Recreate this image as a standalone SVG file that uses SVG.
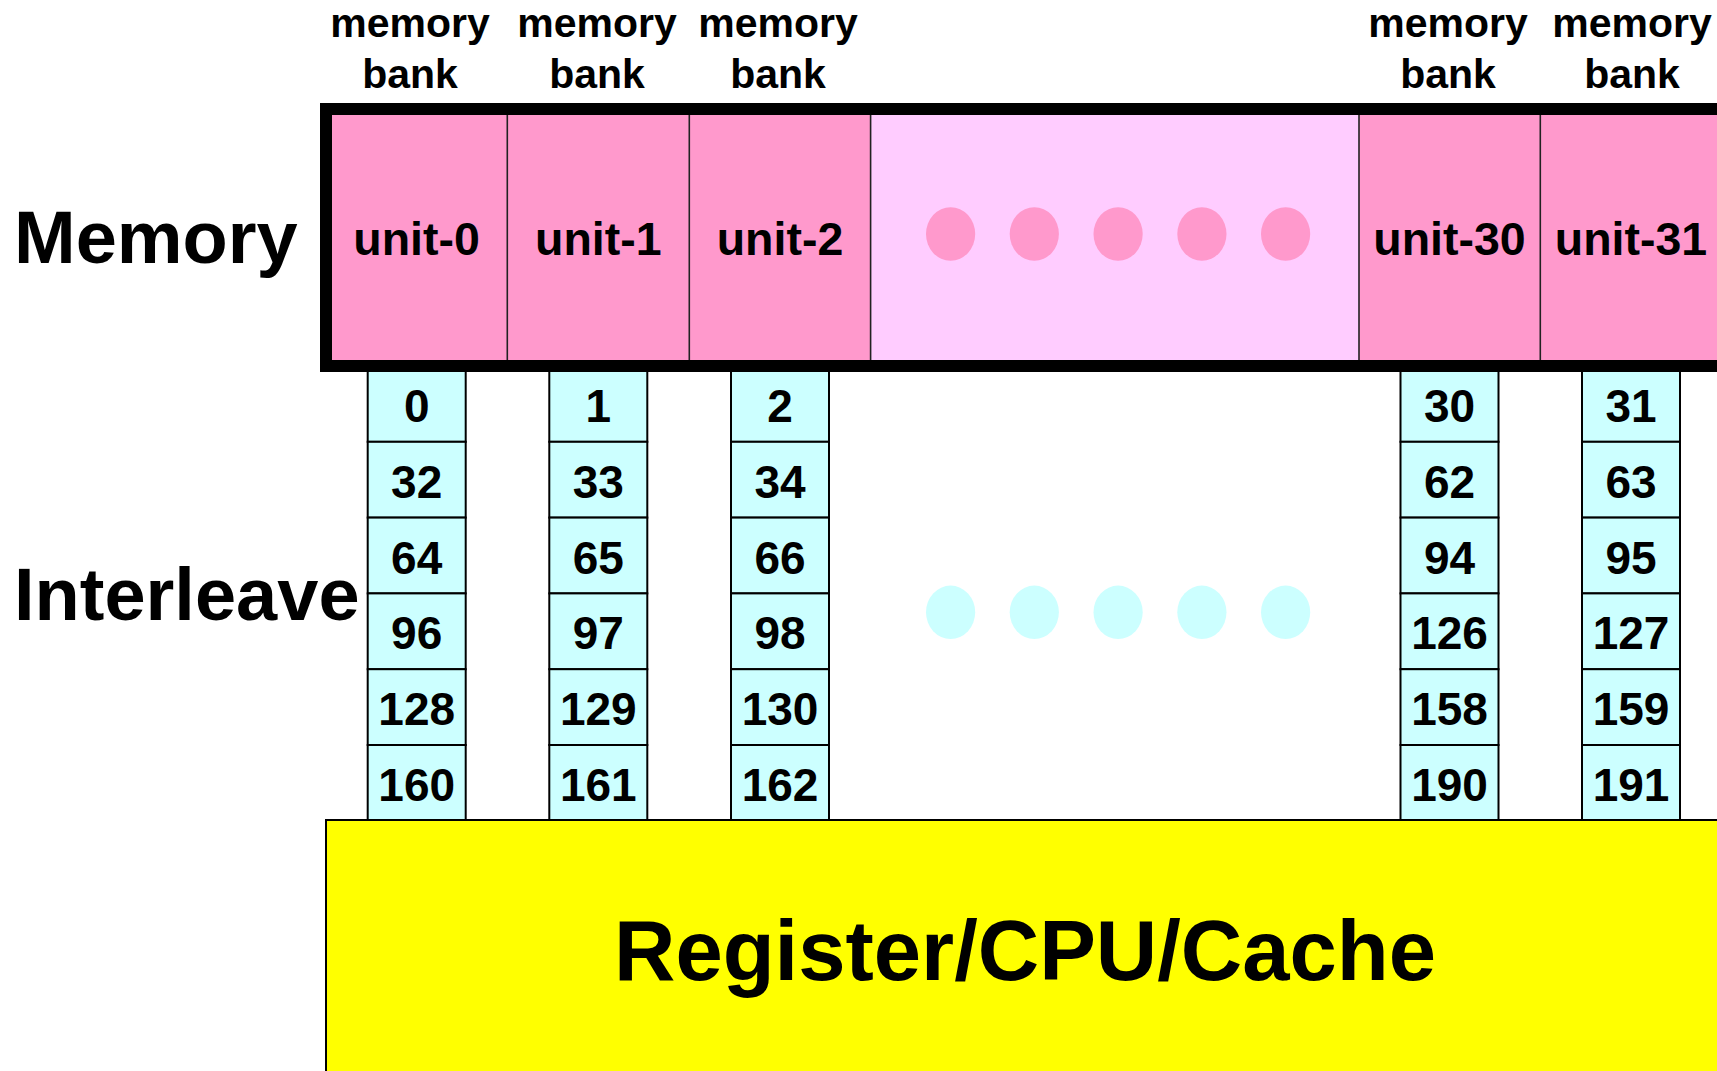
<svg xmlns="http://www.w3.org/2000/svg" width="1717" height="1071" viewBox="0 0 1717 1071">
  <style>
    text { font-family: "Liberation Sans", Arial, sans-serif; font-weight: bold; fill: #000; }
    .side { font-size: 74px; }
    .bank { font-size: 41px; text-anchor: middle; }
    .unit { font-size: 46.5px; text-anchor: middle; }
    .num { font-size: 46px; text-anchor: middle; }
    .cell { fill: #CCFFFF; stroke: #000; stroke-width: 2; }
    .div { stroke: #222; stroke-width: 1.6; }
    .pdot { fill: #FF99CC; }
    .cdot { fill: #CCFFFF; }
  </style>
  <rect width="1717" height="1071" fill="#fff"/>

  <!-- side captions -->
  <g id="caption-memory"><text class="side" x="14" y="263">Memory</text></g>
  <g id="caption-interleave"><text class="side" x="14" y="620">Interleave</text></g>

  <!-- bank headers -->
  <g id="bank-labels">
    <text class="bank" x="410" y="37">memory</text><text class="bank" x="410" y="88">bank</text>
    <text class="bank" x="597" y="37">memory</text><text class="bank" x="597" y="88">bank</text>
    <text class="bank" x="778" y="37">memory</text><text class="bank" x="778" y="88">bank</text>
    <text class="bank" x="1448" y="37">memory</text><text class="bank" x="1448" y="88">bank</text>
    <text class="bank" x="1632" y="37">memory</text><text class="bank" x="1632" y="88">bank</text>
  </g>

  <!-- interleaved address columns (drawn below the memory frame) -->
  <g id="column-0">
    <rect class="cell" x="367.7" y="366" width="98" height="75.8"/>
    <rect class="cell" x="367.7" y="441.8" width="98" height="75.8"/>
    <rect class="cell" x="367.7" y="517.6" width="98" height="75.8"/>
    <rect class="cell" x="367.7" y="593.4" width="98" height="75.8"/>
    <rect class="cell" x="367.7" y="669.2" width="98" height="75.8"/>
    <rect class="cell" x="367.7" y="745" width="98" height="75.8"/>
    <text class="num" x="416.7" y="422">0</text>
    <text class="num" x="416.7" y="498">32</text>
    <text class="num" x="416.7" y="573.6">64</text>
    <text class="num" x="416.7" y="649.4">96</text>
    <text class="num" x="416.7" y="725.2">128</text>
    <text class="num" x="416.7" y="801">160</text>
  </g>
  <g id="column-1">
    <rect class="cell" x="549.3" y="366" width="98" height="75.8"/>
    <rect class="cell" x="549.3" y="441.8" width="98" height="75.8"/>
    <rect class="cell" x="549.3" y="517.6" width="98" height="75.8"/>
    <rect class="cell" x="549.3" y="593.4" width="98" height="75.8"/>
    <rect class="cell" x="549.3" y="669.2" width="98" height="75.8"/>
    <rect class="cell" x="549.3" y="745" width="98" height="75.8"/>
    <text class="num" x="598.3" y="422">1</text>
    <text class="num" x="598.3" y="498">33</text>
    <text class="num" x="598.3" y="573.6">65</text>
    <text class="num" x="598.3" y="649.4">97</text>
    <text class="num" x="598.3" y="725.2">129</text>
    <text class="num" x="598.3" y="801">161</text>
  </g>
  <g id="column-2">
    <rect class="cell" x="731" y="366" width="98" height="75.8"/>
    <rect class="cell" x="731" y="441.8" width="98" height="75.8"/>
    <rect class="cell" x="731" y="517.6" width="98" height="75.8"/>
    <rect class="cell" x="731" y="593.4" width="98" height="75.8"/>
    <rect class="cell" x="731" y="669.2" width="98" height="75.8"/>
    <rect class="cell" x="731" y="745" width="98" height="75.8"/>
    <text class="num" x="780" y="422">2</text>
    <text class="num" x="780" y="498">34</text>
    <text class="num" x="780" y="573.6">66</text>
    <text class="num" x="780" y="649.4">98</text>
    <text class="num" x="780" y="725.2">130</text>
    <text class="num" x="780" y="801">162</text>
  </g>
  <g id="column-30">
    <rect class="cell" x="1400.5" y="366" width="98" height="75.8"/>
    <rect class="cell" x="1400.5" y="441.8" width="98" height="75.8"/>
    <rect class="cell" x="1400.5" y="517.6" width="98" height="75.8"/>
    <rect class="cell" x="1400.5" y="593.4" width="98" height="75.8"/>
    <rect class="cell" x="1400.5" y="669.2" width="98" height="75.8"/>
    <rect class="cell" x="1400.5" y="745" width="98" height="75.8"/>
    <text class="num" x="1449.5" y="422">30</text>
    <text class="num" x="1449.5" y="498">62</text>
    <text class="num" x="1449.5" y="573.6">94</text>
    <text class="num" x="1449.5" y="649.4">126</text>
    <text class="num" x="1449.5" y="725.2">158</text>
    <text class="num" x="1449.5" y="801">190</text>
  </g>
  <g id="column-31">
    <rect class="cell" x="1582" y="366" width="98" height="75.8"/>
    <rect class="cell" x="1582" y="441.8" width="98" height="75.8"/>
    <rect class="cell" x="1582" y="517.6" width="98" height="75.8"/>
    <rect class="cell" x="1582" y="593.4" width="98" height="75.8"/>
    <rect class="cell" x="1582" y="669.2" width="98" height="75.8"/>
    <rect class="cell" x="1582" y="745" width="98" height="75.8"/>
    <text class="num" x="1631" y="422">31</text>
    <text class="num" x="1631" y="498">63</text>
    <text class="num" x="1631" y="573.6">95</text>
    <text class="num" x="1631" y="649.4">127</text>
    <text class="num" x="1631" y="725.2">159</text>
    <text class="num" x="1631" y="801">191</text>
  </g>
  <g id="column-ellipsis">
    <ellipse class="cdot" cx="950.6" cy="612.3" rx="24.6" ry="26.7"/>
    <ellipse class="cdot" cx="1034.3" cy="612.3" rx="24.6" ry="26.7"/>
    <ellipse class="cdot" cx="1118.1" cy="612.3" rx="24.6" ry="26.7"/>
    <ellipse class="cdot" cx="1201.9" cy="612.3" rx="24.6" ry="26.7"/>
    <ellipse class="cdot" cx="1285.6" cy="612.3" rx="24.6" ry="26.7"/>
  </g>

  <!-- memory frame with its units -->
  <g id="memory">
    <rect x="326" y="109" width="545" height="257" fill="#FF99CC"/>
    <rect x="870.6" y="109" width="488.4" height="257" fill="#FFCCFF"/>
    <rect x="1359" y="109" width="380" height="257" fill="#FF99CC"/>
    <line class="div" x1="507.3" y1="109" x2="507.3" y2="366"/>
    <line class="div" x1="689.3" y1="109" x2="689.3" y2="366"/>
    <line class="div" x1="870.6" y1="109" x2="870.6" y2="366"/>
    <line class="div" x1="1359" y1="109" x2="1359" y2="366"/>
    <line class="div" x1="1540.3" y1="109" x2="1540.3" y2="366"/>
    <rect x="326" y="109" width="1420" height="257" fill="none" stroke="#000" stroke-width="12"/>
  </g>
  <g id="unit-0"><text class="unit" x="416.6" y="255">unit-0</text></g>
  <g id="unit-1"><text class="unit" x="598.3" y="255">unit-1</text></g>
  <g id="unit-2"><text class="unit" x="780" y="255">unit-2</text></g>
  <g id="unit-ellipsis">
    <ellipse class="pdot" cx="950.6" cy="234" rx="24.6" ry="26.7"/>
    <ellipse class="pdot" cx="1034.3" cy="234" rx="24.6" ry="26.7"/>
    <ellipse class="pdot" cx="1118.1" cy="234" rx="24.6" ry="26.7"/>
    <ellipse class="pdot" cx="1201.9" cy="234" rx="24.6" ry="26.7"/>
    <ellipse class="pdot" cx="1285.6" cy="234" rx="24.6" ry="26.7"/>
  </g>
  <g id="unit-30"><text class="unit" x="1449.5" y="255">unit-30</text></g>
  <g id="unit-31"><text class="unit" x="1631" y="255">unit-31</text></g>

  <!-- processor side -->
  <g id="cpu">
    <rect x="326" y="820" width="1420" height="280" fill="#FFFF00" stroke="#000" stroke-width="2"/>
    <text x="1025" y="980" font-size="85" text-anchor="middle">Register/CPU/Cache</text>
  </g>

  <g id="connectors"/>
</svg>
